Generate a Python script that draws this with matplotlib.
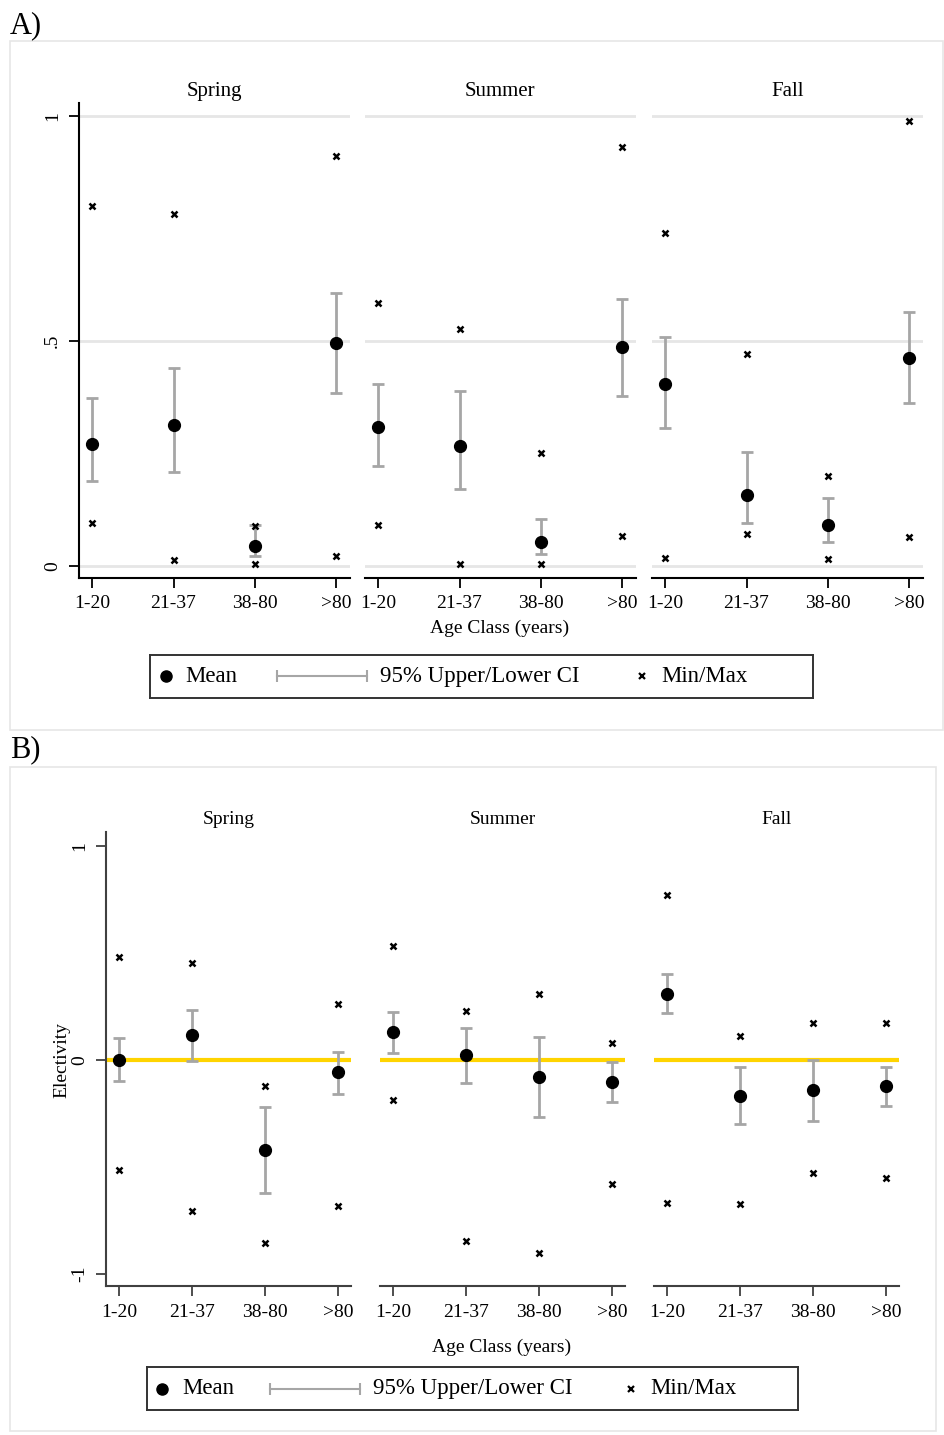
import matplotlib
matplotlib.use("Agg")
import matplotlib.pyplot as plt
from matplotlib.patches import Rectangle
import numpy as np

plt.rcParams['font.family'] = ['Liberation Serif', 'DejaVu Serif']

# ---------------- data ----------------
age_classes = ["1-20", "21-37", "38-80", ">80"]
seasons = ["Spring", "Summer", "Fall"]

# Panel A (proportion)
a_mean = {"Spring": [0.272, 0.313, 0.045, 0.495],
          "Summer": [0.308, 0.266, 0.054, 0.486],
          "Fall":   [0.405, 0.158, 0.091, 0.463]}
a_ci_lo = {"Spring": [0.189, 0.208, 0.022, 0.384],
           "Summer": [0.222, 0.171, 0.026, 0.379],
           "Fall":   [0.306, 0.095, 0.053, 0.362]}
a_ci_hi = {"Spring": [0.373, 0.440, 0.090, 0.607],
           "Summer": [0.405, 0.390, 0.105, 0.594],
           "Fall":   [0.510, 0.253, 0.152, 0.565]}
a_min = {"Spring": [0.095, 0.012, 0.004, 0.021],
         "Summer": [0.092, 0.004, 0.004, 0.066],
         "Fall":   [0.018, 0.072, 0.016, 0.065]}
a_max = {"Spring": [0.801, 0.782, 0.089, 0.911],
         "Summer": [0.586, 0.526, 0.251, 0.932],
         "Fall":   [0.741, 0.471, 0.201, 0.990]}
a_yticks = [0, 0.5, 1]
a_yticklabels = ["0", ".5", "1"]

# Panel B (electivity)
b_mean = {"Spring": [0.000, 0.117, -0.421, -0.059],
          "Summer": [0.131, 0.023, -0.081, -0.102],
          "Fall":   [0.309, -0.168, -0.142, -0.121]}
b_ci_lo = {"Spring": [-0.100, -0.006, -0.624, -0.158],
           "Summer": [0.034, -0.106, -0.266, -0.198],
           "Fall":   [0.218, -0.301, -0.284, -0.214]}
b_ci_hi = {"Spring": [0.100, 0.233, -0.221, 0.036],
           "Summer": [0.222, 0.150, 0.106, -0.010],
           "Fall":   [0.400, -0.032, 0.000, -0.034]}
b_min = {"Spring": [-0.516, -0.706, -0.858, -0.682],
         "Summer": [-0.189, -0.848, -0.902, -0.582],
         "Fall":   [-0.669, -0.675, -0.530, -0.551]}
b_max = {"Spring": [0.480, 0.453, -0.124, 0.260],
         "Summer": [0.533, 0.230, 0.308, 0.077],
         "Fall":   [0.773, 0.110, 0.171, 0.171]}
b_yticks = [-1, 0, 1]
b_yticklabels = ["-1", "0", "1"]

# ---------------- figure ----------------
W, H = 944, 1435
fig = plt.figure(figsize=(W / 100, H / 100), dpi=100)


def fax(left, top, right, bottom):
    return fig.add_axes([left / W, 1 - bottom / H, (right - left) / W, (bottom - top) / H])


# outer frames
fig.patches.append(Rectangle((10 / W, 1 - 730 / H), (943 - 10) / W, (730 - 41) / H,
                             transform=fig.transFigure, fill=False, ec="#e6e6e6", lw=1.2))
fig.patches.append(Rectangle((10 / W, 1 - 1431 / H), (936 - 10) / W, (1431 - 767) / H,
                             transform=fig.transFigure, fill=False, ec="#e6e6e6", lw=1.2))
fig.text(10 / W, 1 - 26 / H, "A)", fontsize=22, va="center", ha="left")
fig.text(10 / W, 1 - 750 / H, "B)", fontsize=22, va="center", ha="left")

CI_COLOR = "#a6a6a6"
x = np.arange(1, len(age_classes) + 1)


def draw_panel(ax, mean, lo, hi, mn, mx, xlim, ylim, title, title_size, tick_size,
               first, yticks, yticklabels, grid, zero_line, spine_color):
    ax.set_xlim(*xlim)
    ax.set_ylim(*ylim)
    if grid:
        for yv in yticks:
            ax.axhline(yv, color="#e6e6e6", lw=2.0, zorder=0)
    if zero_line:
        ax.axhline(0, color="#ffd400", lw=3.0, zorder=1)
    m = np.array(mean)
    ax.errorbar(x, m, yerr=[m - np.array(lo), np.array(hi) - m], fmt="none",
                ecolor=CI_COLOR, elinewidth=2.0, capsize=4.5, capthick=2.0, zorder=2)
    ax.plot(x, m, "o", color="black", ms=8.5, zorder=4, ls="none")
    ax.plot(x, mn, "x", color="black", ms=5, mew=1.8, zorder=3, ls="none")
    ax.plot(x, mx, "x", color="black", ms=5, mew=1.8, zorder=3, ls="none")
    ax.set_xticks(x)
    ax.set_xticklabels(age_classes, fontsize=tick_size)
    ax.tick_params(axis="x", length=7, width=1.3, color=spine_color, pad=5)
    for s in ["top", "right"]:
        ax.spines[s].set_visible(False)
    ax.spines["bottom"].set_linewidth(1.5)
    ax.spines["bottom"].set_color(spine_color)
    if first:
        ax.spines["left"].set_linewidth(1.5)
        ax.spines["left"].set_color(spine_color)
        ax.set_yticks(yticks)
        ax.set_yticklabels(yticklabels, fontsize=tick_size, rotation=90, va="center")
        ax.tick_params(axis="y", length=7, width=1.3, color=spine_color, pad=6)
    else:
        ax.spines["left"].set_visible(False)
        ax.set_yticks([])
    ax.set_title(title, fontsize=title_size, pad=12)
    ax.patch.set_alpha(0)


# Panel A axes (pixel boxes)
a_boxes = [(79, 103, 349.5, 578), (365, 103, 635.5, 578), (652, 103, 922.5, 578)]
for i, (season, box) in enumerate(zip(seasons, a_boxes)):
    ax = fax(*box)
    draw_panel(ax, a_mean[season], a_ci_lo[season], a_ci_hi[season], a_min[season], a_max[season],
               (0.84, 4.16), (-0.027, 1.03), season, 15, 14, i == 0, a_yticks, a_yticklabels,
               grid=True, zero_line=False, spine_color="black")
    ax.title.set_position((0.5, 1.0))
    ax.set_title(season, fontsize=15, pad=5)
fig.text(500 / W, 1 - 628 / H, "Age Class (years)", fontsize=14, ha="center", va="center")

# Panel B axes
b_boxes = [(106, 832, 351, 1286), (380, 832, 625, 1286), (654, 832, 899, 1286)]
for i, (season, box) in enumerate(zip(seasons, b_boxes)):
    ax = fax(*box)
    draw_panel(ax, b_mean[season], b_ci_lo[season], b_ci_hi[season], b_min[season], b_max[season],
               (0.82, 4.18), (-1.058, 1.066), season, 14, 14, i == 0, b_yticks, b_yticklabels,
               grid=False, zero_line=True, spine_color="#404040")
    ax.set_title(season, fontsize=14, pad=6)
    ax.xaxis.set_tick_params(pad=6)
fig.text(502 / W, 1 - 1347 / H, "Age Class (years)", fontsize=14, ha="center", va="center")
fig.text(62 / W, 1 - 1060 / H, "Electivity", fontsize=14, ha="center", va="center", rotation=90)


# ---------------- legends ----------------
def draw_legend(left, top, right, bottom, dot_x, mean_x, ci_x0, ci_x1, ci_tx, cross_x, mm_x):
    lax = fax(left, top, right, bottom)
    lax.set_xlim(left, right)
    lax.set_ylim(0, 1)
    lax.set_xticks([])
    lax.set_yticks([])
    for s in lax.spines.values():
        s.set_linewidth(1.4)
        s.set_color("#333333")
    lax.plot([dot_x], [0.5], "o", color="black", ms=8)
    lax.text(mean_x, 0.5, "Mean", fontsize=16.5, va="center", ha="left")
    lax.plot([ci_x0, ci_x1], [0.5, 0.5], color=CI_COLOR, lw=1.5)
    lax.plot([ci_x0, ci_x1], [0.5, 0.5], "|", color=CI_COLOR, ms=9, mew=1.5)
    lax.text(ci_tx, 0.5, "95% Upper/Lower CI", fontsize=16.5, va="center", ha="left")
    lax.plot([cross_x], [0.5], "x", color="black", ms=5, mew=1.6)
    lax.text(mm_x, 0.5, "Min/Max", fontsize=16.5, va="center", ha="left")


draw_legend(150, 655, 813, 698, 166, 185, 277, 367, 380, 642, 661)
draw_legend(147, 1367, 798, 1410, 162, 182, 270, 360, 373, 631, 650)

fig.savefig("out.png", dpi=100)
